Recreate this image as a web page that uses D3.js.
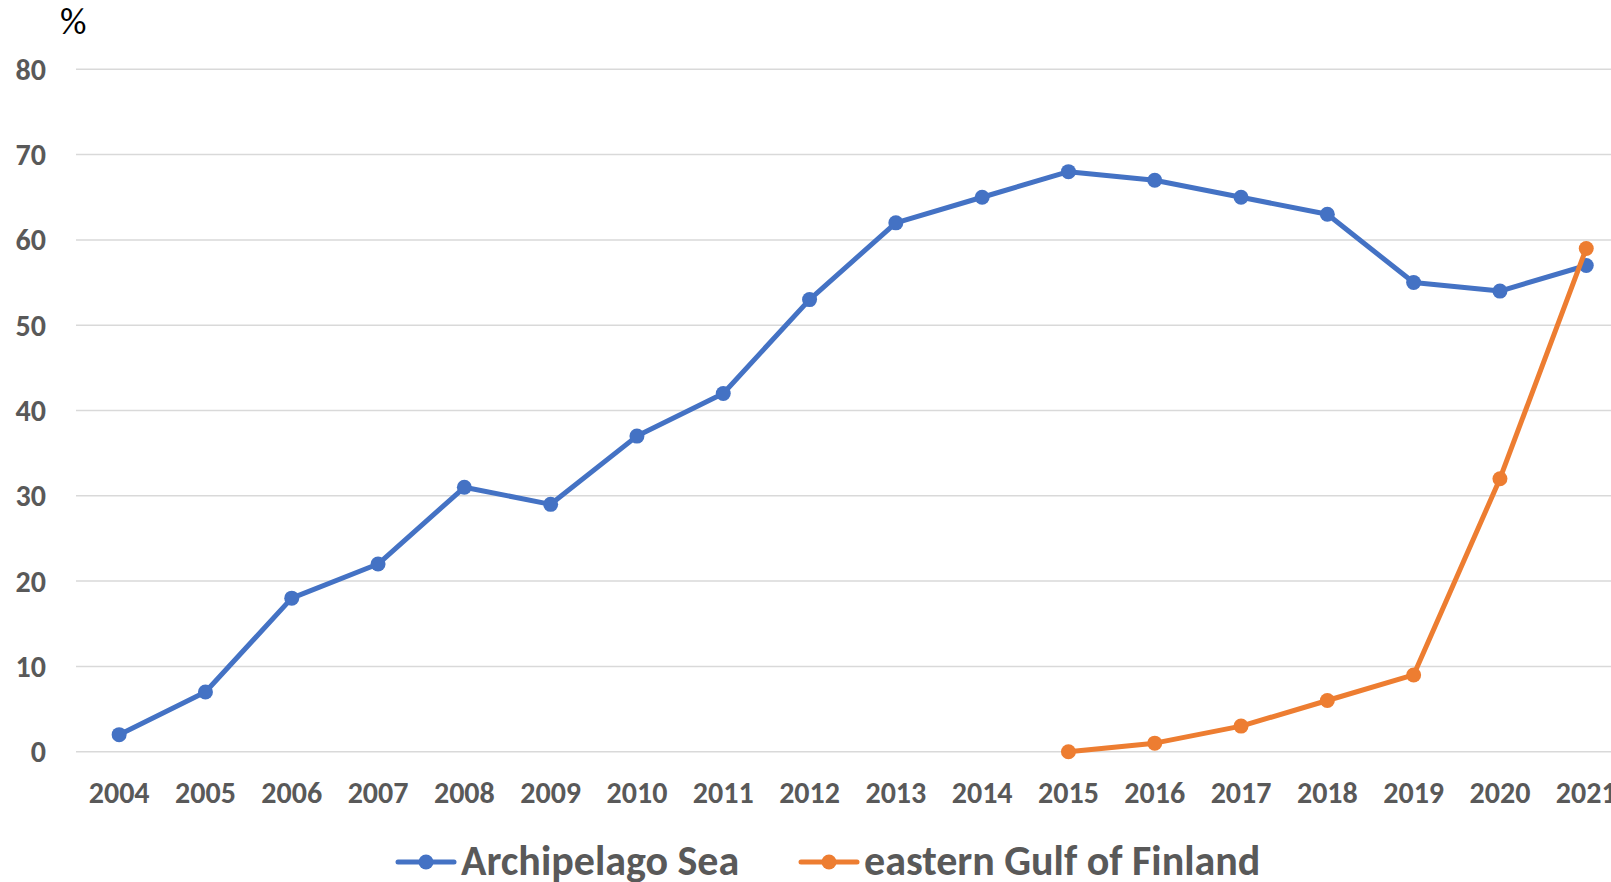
<!DOCTYPE html>
<html>
<head>
<meta charset="utf-8">
<script src="https://cdn.jsdelivr.net/npm/d3@7"></script>
<style>
  body { margin: 0; background: #fff; }
  svg { display: block; }
  text { font-family: Carlito, Lato, "Liberation Sans", sans-serif; }
</style>
</head>
<body>
<svg id="chart" width="1611" height="882"></svg>
<script>
// data
const years = [2004, 2005, 2006, 2007, 2008, 2009, 2010, 2011, 2012,
               2013, 2014, 2015, 2016, 2017, 2018, 2019, 2020, 2021];
const archipelago = [2, 7, 18, 22, 31, 29, 37, 42, 53, 62, 65, 68, 67, 65, 63, 55, 54, 57];
const gulfYears = [2015, 2016, 2017, 2018, 2019, 2020, 2021];
const gulf = [0, 1, 3, 6, 9, 32, 59];
const yTicks = [0, 10, 20, 30, 40, 50, 60, 70, 80];
const seriesNames = ['Archipelago Sea', 'eastern Gulf of Finland'];
const colors = ['#4472C4', '#ED7D31'];

const W = 1611, H = 882;
const left = 76, step = 86.3;
const svg = d3.select('#chart');

// plot runs past the right edge, like the original (2021 label is clipped)
let x = d3.scalePoint()
    .domain(years)
    .range([left, left + step * years.length])
    .padding(0.5);

let y = d3.scaleLinear()
    .domain([0, 80])
    .range([751.7, 69.3]);

// grid
svg.append('g')
    .selectAll('line')
    .data(yTicks)
    .enter()
    .append('line')
    .attr('x1', left)
    .attr('x2', W)
    .attr('y1', d => y(d))
    .attr('y2', d => y(d))
    .attr('stroke', '#D9D9D9')
    .attr('stroke-width', 1.5);

// y labels
svg.append('g')
    .selectAll('text')
    .data(yTicks)
    .enter()
    .append('text')
    .attr('x', 46)
    .attr('y', d => y(d) + 10.5)
    .attr('text-anchor', 'end')
    .attr('font-size', 30)
    .attr('font-weight', 'bold')
    .attr('fill', '#595959')
    .text(d => d);

// x labels
svg.append('g')
    .selectAll('text')
    .data(years)
    .enter()
    .append('text')
    .attr('x', d => x(d))
    .attr('y', 803)
    .attr('text-anchor', 'middle')
    .attr('font-size', 30)
    .attr('font-weight', 'bold')
    .attr('fill', '#595959')
    .text(d => d);

// unit
svg.append('text')
    .attr('x', 60)
    .attr('y', 34)
    .attr('font-size', 37)
    .attr('fill', '#000')
    .text('%');

let line = d3.line()
    .x(d => x(d[0]))
    .y(d => y(d[1]));

let series = [
    d3.zip(years, archipelago),
    d3.zip(gulfYears, gulf)
];

series.forEach((s, i) => {
    svg.append('path')
        .datum(s)
        .attr('d', line)
        .attr('fill', 'none')
        .attr('stroke', colors[i])
        .attr('stroke-width', 5)
        .attr('stroke-linejoin', 'round');
    svg.append('g')
        .selectAll('circle')
        .data(s)
        .enter()
        .append('circle')
        .attr('cx', d => x(d[0]))
        .attr('cy', d => y(d[1]))
        .attr('r', 7.5)
        .attr('fill', colors[i]);
});

// legend
const legendX = [398, 801];
seriesNames.forEach((name, i) => {
    let g = svg.append('g').attr('transform', `translate(${legendX[i]},862)`);
    g.append('line')
        .attr('x1', 0).attr('x2', 56)
        .attr('stroke', colors[i])
        .attr('stroke-width', 5)
        .attr('stroke-linecap', 'round');
    g.append('circle')
        .attr('cx', 28).attr('r', 7.5)
        .attr('fill', colors[i]);
    g.append('text')
        .attr('x', 63)
        .attr('y', 13)
        .attr('font-size', 42)
        .attr('font-weight', 'bold')
        .attr('fill', '#595959')
        .text(name);
});
</script>
</body>
</html>
